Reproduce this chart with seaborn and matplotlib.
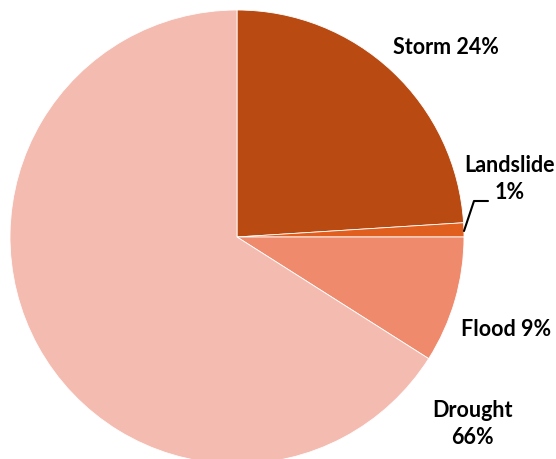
import matplotlib
matplotlib.use('Agg')
import matplotlib.pyplot as plt
import seaborn as sns

# Disaster shares (%)
categories = ['Storm', 'Landslide', 'Flood', 'Drought']
shares = [24, 1, 9, 66]
colors = ['#B84A12', '#E05E1E', '#EF8A6C', '#F4BBB0']

sns.set_style('white')
plt.rcParams['font.family'] = ['Lato', 'DejaVu Sans']

fig = plt.figure(figsize=(5.56, 4.60), dpi=100)
ax = fig.add_axes([0, 0, 1, 1])

R = 227.0
cx, cy = 237.0, 238.0
ax.pie(shares, colors=colors, startangle=90, counterclock=False, radius=1,
       wedgeprops=dict(edgecolor='white', linewidth=0.6))
ax.set_aspect('equal')
ax.set_xlim(-cx / R, (556 - cx) / R)
ax.set_ylim(-(460 - cy) / R, cy / R)
ax.axis('off')


def px(x, y):
    return (x - cx) / R, (cy - y) / R


label_pos = {
    'Storm': px(446, 48),
    'Landslide': px(510, 179),
    'Flood': px(506, 330),
    'Drought': px(472, 424),
}
label_text = {
    'Storm': 'Storm 24%',
    'Landslide': 'Landslide\n1%',
    'Flood': 'Flood 9%',
    'Drought': 'Drought\n66%',
}
for c in categories:
    x, y = label_pos[c]
    ax.text(x, y, label_text[c], ha='center', va='center', fontsize=15.5,
            fontweight='bold', color='black', linespacing=1.3)

# leader line for the small slice
lx = [px(464, 232)[0], px(474, 202)[0], px(488, 202)[0]]
ly = [px(464, 232)[1], px(474, 202)[1], px(488, 202)[1]]
ax.plot(lx, ly, color='black', linewidth=1.5)

fig.savefig('out.png', dpi=100)
